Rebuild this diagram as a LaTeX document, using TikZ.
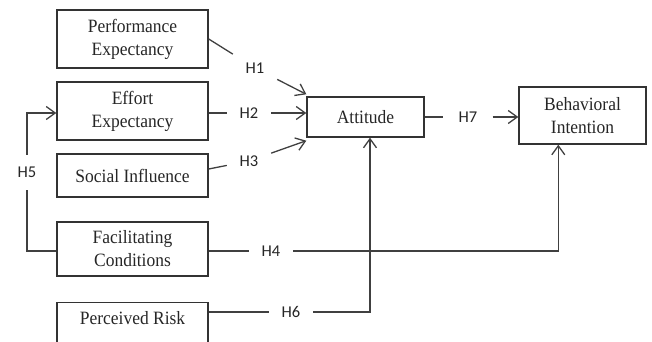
\documentclass[tikz,border=0pt]{standalone}
\usepackage{fontspec}
\setmainfont{Liberation Serif}[FakeStretch=0.93]
\newfontfamily\lblfont{Carlito}
\usetikzlibrary{arrows.meta}
\begin{document}
\begin{tikzpicture}[x=1pt,y=-1pt,
  box/.style={draw=black!80, line width=1.4pt, align=center, inner sep=0pt,
    font=\fontsize{18.8}{23}\selectfont, text=black!85},
  hlbl/.style={minimum width=44pt, minimum height=28pt, inner sep=0pt,
    font=\lblfont\fontsize{16.5}{18}\selectfont, text=black!85},
  conn/.style={draw=black!75, line width=1.3pt},
  arr/.style={conn, -{Straight Barb[length=9pt,width=13pt,line width=1.3pt]}}]
\useasboundingbox (0,0) rectangle (652,342);
\clip (0,0) rectangle (652,342);
% boxes
\node[box, minimum width=151pt, minimum height=58pt] (PE) at (132.5,39) {Performance\\Expectancy};
\node[box, minimum width=151pt, minimum height=58pt] (EE) at (132.5,111) {Effort\\Expectancy};
\node[box, minimum width=151pt, minimum height=43pt] (SI) at (132.5,175.5) {Social Influence};
\node[box, minimum width=151pt, minimum height=54pt] (FC) at (132.5,249) {Facilitating\\Conditions};
\node[box, minimum width=151pt, minimum height=46pt, anchor=north, text depth=16pt] (PR) at (132.5,302) {Perceived Risk};
\node[box, minimum width=117pt, minimum height=40pt] (Att) at (365.5,117) {Attitude};
\node[box, minimum width=127pt, minimum height=57pt] (BI) at (582.5,115.5) {Behavioral\\Intention};
% labels
\node[hlbl] (H1) at (255,68) {H1};
\node[hlbl] (H2) at (249,113) {H2};
\node[hlbl] (H3) at (249,161) {H3};
\node[hlbl] (H4) at (271,251) {H4};
\node[hlbl] (H6) at (291,312) {H6};
\node[hlbl, minimum width=49pt] (H7) at (468,117) {H7};
\node[hlbl, minimum width=20pt, minimum height=35pt] (H5) at (27,172.5) {H5};
% helper coordinates
\coordinate (c5) at (27,251);
\coordinate (t1) at ([yshift=2pt]Att.north west);
\coordinate (t3) at ([yshift=-3pt]Att.south west);
\coordinate (s3) at ([yshift=6.5pt]SI.east);
\coordinate (b4) at ([xshift=40pt]BI.south west);
\coordinate (a6) at ([xshift=4.5pt]Att.south);
% connectors
\draw[conn] (PE.east) -- (H1);
\draw[arr] (H1) -- (t1);
\draw[conn] (EE.east |- H2) -- (H2);
\draw[arr] (H2) -- (Att.west |- H2);
\draw[conn] (s3) -- (H3);
\draw[arr] (H3) -- (t3);
\draw[conn] (FC.east |- H4) -- (H4);
\draw[arr] (H4) -| (b4);
\draw[conn] (PR.east |- H6) -- (H6);
\draw[arr] (H6) -| (a6);
\draw[conn] (Att.east |- H7) -- (H7);
\draw[arr] (H7) -- (BI.west |- H7);
\draw[conn] (FC.west |- c5) -- (c5) -- (H5);
\draw[arr] (H5) |- (EE.west |- H2);
\end{tikzpicture}
\end{document}
